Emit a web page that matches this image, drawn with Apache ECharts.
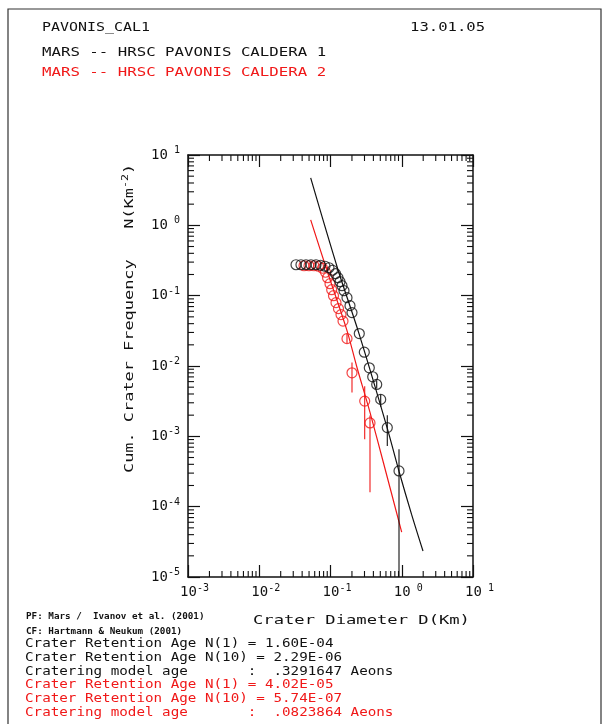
<!DOCTYPE html>
<html><head><meta charset="utf-8">
<script src="https://cdn.jsdelivr.net/npm/echarts@6/dist/echarts.min.js"></script>
<style>html,body{margin:0;padding:0;background:#fff}#c{width:603px;height:724px}</style>
</head><body><div id="c"></div><script>
// ---- Data: CAL 1 (black) ----
const diam1 = [0.0328,0.0385,0.0453,0.0532,0.0626,0.0724,0.0837,0.0953,0.1067,0.1176,0.1274,0.1359,0.1450,0.1547,0.1704,0.1878,0.2003,0.2536,0.2981,0.3504,0.3912,0.4452,0.5065,0.6268,0.9150];
const freq1 = [0.2753,0.2753,0.2753,0.2753,0.2753,0.2708,0.2621,0.2495,0.2300,0.2052,0.1800,0.1580,0.1386,0.1177,0.0937,0.0721,0.0574,0.0289,0.0157,0.00943,0.00703,0.00547,0.00335,0.00133,0.000322];
const errLo1 = [null,null,null,null,null,null,null,null,null,null,null,null,null,null,null,null,null,null,null,null,null,0.0048,0.00264,0.00073,0.00001];
const errHi1 = [null,null,null,null,null,null,null,null,null,null,null,null,null,null,null,null,null,null,null,null,null,0.0062,0.00394,0.00199,0.000654];
// ---- Data: CAL 2 (red) ----
const diam2 = [0.0425,0.0499,0.0587,0.0679,0.0772,0.0851,0.0908,0.0984,0.1039,0.1102,0.1195,0.1295,0.1404,0.1498,0.1704,0.2003,0.3020,0.3584];
const freq2 = [0.2663,0.2663,0.2663,0.2621,0.2455,0.2154,0.1800,0.1480,0.1216,0.1000,0.0796,0.0654,0.0538,0.0435,0.0245,0.00801,0.00317,0.00155];
const errLo2 = [null,null,null,null,null,null,null,null,null,null,null,null,null,null,0.021,0.00421,0.000907,0.00016];
const errHi2 = [null,null,null,null,null,null,null,null,null,null,null,null,null,null,0.029,0.0112,0.00517,0.00197];
// ---- Fitted isochrons ----
const fitD1 = [0.0527,0.1274,0.2512,0.6209,0.915,1.370,1.987];
const fitN1 = [4.718,0.2338,0.0289,0.001342,0.000319,0.0000783,0.0000234];
const fitD2 = [0.0527,0.0885,0.1688,0.2332,0.3584,0.5511,0.998];
const fitN2 = [1.197,0.2338,0.0329,0.00984,0.00219,0.000428,0.0000435];
// ---- Axes ----
const xDecades = [-3,-2,-1,0];
const yDecades = [-5,-4,-3,-2,-1,0];
const minorMult = [2,3,4,5,6,7,8,9];

const FONT = 'DejaVu Sans Mono';
const BLACK = '#111';
const RED = '#f01818';

const zip = (a,b) => a.map((v,i)=>[v,b[i]]);
const errData = (d,lo,hi) => d.map((v,i)=> lo[i]==null ? null : [v,lo[i],hi[i]]).filter(Boolean);
const minorX = [], minorY = [];
xDecades.forEach(e => minorMult.forEach(m => minorX.push([m*Math.pow(10,e), 1])));
yDecades.forEach(e => minorMult.forEach(m => minorY.push([0.01, m*Math.pow(10,e)])));

function supFmt(v){
  const e = Math.round(Math.log10(v));
  return e >= 0 ? ' ' + e : String(e);
}

function errRender(color){
  return function(params, api){
    const a = api.coord([api.value(0), api.value(1)]);
    const b = api.coord([api.value(0), api.value(2)]);
    return {type:'line', shape:{x1:a[0],y1:a[1],x2:b[0],y2:b[1]}, style:{stroke:color, lineWidth:1.1}};
  };
}

const chart = echarts.init(document.getElementById('c'), null, {renderer:'canvas'});
const axisCommon = {
  type:'log', logBase:10,
  axisLine:{show:true, lineStyle:{color:BLACK, width:1.5}},
  axisTick:{show:true, inside:true, length:12, lineStyle:{color:BLACK, width:1.2}},
  splitLine:{show:false}, minorTick:{show:false}
};
const labelRich = {
  b:{fontFamily:FONT, fontSize:14, color:BLACK},
  s:{fontFamily:FONT, fontSize:10, color:BLACK, padding:[0,0,9,0]},
  p:{fontFamily:FONT, fontSize:10, width:13}
};

chart.setOption({
  animation:false,
  backgroundColor:'#fff',
  grid:{left:188, top:155, width:285, height:422, containLabel:false},
  xAxis:[
    Object.assign({}, axisCommon, {min:0.001, max:10, splitNumber:4, position:'bottom',
      axisLabel:{show:true, margin:6, formatter:v=>'{p| }{b|10}{s|'+supFmt(v)+'}', rich:labelRich}}),
    Object.assign({}, axisCommon, {min:0.001, max:10, splitNumber:4, position:'top', axisLabel:{show:false}})
  ],
  yAxis:[
    Object.assign({}, axisCommon, {min:0.00001, max:10, splitNumber:6, position:'left',
      axisLabel:{show:true, margin:8, formatter:v=>'{b|10}{s|'+supFmt(v)+'}', rich:labelRich}}),
    Object.assign({}, axisCommon, {min:0.00001, max:10, splitNumber:6, position:'right', axisLabel:{show:false}})
  ],
  series:[
    {type:'custom', name:'minorX', data:minorX, encode:{x:0,y:1}, silent:true, clip:false,
      renderItem:(params, api)=>{
        const cs = params.coordSys; const p = api.coord([api.value(0), 1]);
        return {type:'group', children:[
          {type:'line', shape:{x1:p[0],y1:cs.y+cs.height,x2:p[0],y2:cs.y+cs.height-6}, style:{stroke:BLACK,lineWidth:1.1}},
          {type:'line', shape:{x1:p[0],y1:cs.y,x2:p[0],y2:cs.y+6}, style:{stroke:BLACK,lineWidth:1.1}}
        ]};
      }},
    {type:'custom', name:'minorY', data:minorY, encode:{x:0,y:1}, silent:true, clip:false,
      renderItem:(params, api)=>{
        const cs = params.coordSys; const p = api.coord([0.01, api.value(1)]);
        return {type:'group', children:[
          {type:'line', shape:{x1:cs.x,y1:p[1],x2:cs.x+6,y2:p[1]}, style:{stroke:BLACK,lineWidth:1.1}},
          {type:'line', shape:{x1:cs.x+cs.width,y1:p[1],x2:cs.x+cs.width-6,y2:p[1]}, style:{stroke:BLACK,lineWidth:1.1}}
        ]};
      }},
    {type:'line', name:'fit1', data:zip(fitD1,fitN1), showSymbol:false, smooth:0.3,
      lineStyle:{color:BLACK, width:1.2}, z:3},
    {type:'line', name:'fit2', data:zip(fitD2,fitN2), showSymbol:false, smooth:0.3,
      lineStyle:{color:RED, width:1.2}, z:3},
    {type:'custom', name:'err2', data:errData(diam2,errLo2,errHi2), encode:{x:0,y:[1,2]}, renderItem:errRender(RED), z:4},
    {type:'custom', name:'err1', data:errData(diam1,errLo1,errHi1), encode:{x:0,y:[1,2]}, renderItem:errRender(BLACK), z:4},
    {type:'scatter', name:'CAL2', data:zip(diam2,freq2), symbol:'circle', symbolSize:10,
      itemStyle:{color:'rgba(0,0,0,0)', borderColor:RED, borderWidth:1.2}, z:5},
    {type:'scatter', name:'CAL1', data:zip(diam1,freq1), symbol:'circle', symbolSize:10,
      itemStyle:{color:'rgba(0,0,0,0)', borderColor:BLACK, borderWidth:1.2}, z:6}
  ],
  graphic:[
    {type:'rect', shape:{x:8,y:9,width:593,height:730}, style:{fill:'none', stroke:'#333', lineWidth:1.2}, silent:true},
    {type:'text', x:42, y:28, scaleX:1.15, style:{text:'PAVONIS_CAL1', font:'13px '+FONT, fill:BLACK, textVerticalAlign:'middle'}},
    {type:'text', x:410, y:28, scaleX:1.2, style:{text:'13.01.05', font:'13px '+FONT, fill:BLACK, textVerticalAlign:'middle'}},
    {type:'text', x:42, y:53, scaleX:1.21, style:{text:'MARS -- HRSC PAVONIS CALDERA 1', font:'13px '+FONT, fill:BLACK, textVerticalAlign:'middle'}},
    {type:'text', x:42, y:73, scaleX:1.21, style:{text:'MARS -- HRSC PAVONIS CALDERA 2', font:'13px '+FONT, fill:RED, textVerticalAlign:'middle'}},
    {type:'text', x:130, y:473, rotation:Math.PI/2, scaleX:1.3,
      style:{text:'{a|Cum. Crater Frequency   N(Km}{s|-2}{a|)}', textVerticalAlign:'middle',
        rich:{a:{font:'13px '+FONT, fill:BLACK}, s:{font:'9px '+FONT, fill:BLACK, padding:[0,0,8,0]}}}},
    {type:'text', x:253, y:621, scaleX:1.32, style:{text:'Crater Diameter D(Km)', font:'13px '+FONT, fill:BLACK, textVerticalAlign:'middle'}},
    {type:'text', x:26, y:617, scaleX:1.09, style:{text:'PF: Mars /  Ivanov et al. (2001)', font:'bold 8.5px '+FONT, fill:BLACK, textVerticalAlign:'middle'}},
    {type:'text', x:26, y:632, scaleX:1.09, style:{text:'CF: Hartmann & Neukum (2001)', font:'bold 8.5px '+FONT, fill:BLACK, textVerticalAlign:'middle'}},
    {type:'text', x:25, y:644, scaleX:1.186, style:{text:'Crater Retention Age N(1) = 1.60E-04', font:'12px '+FONT, fill:BLACK, textVerticalAlign:'middle'}},
    {type:'text', x:25, y:658, scaleX:1.186, style:{text:'Crater Retention Age N(10) = 2.29E-06', font:'12px '+FONT, fill:BLACK, textVerticalAlign:'middle'}},
    {type:'text', x:25, y:672, scaleX:1.186, style:{text:'Cratering model age       :  .3291647 Aeons', font:'12px '+FONT, fill:BLACK, textVerticalAlign:'middle'}},
    {type:'text', x:25, y:685, scaleX:1.186, style:{text:'Crater Retention Age N(1) = 4.02E-05', font:'12px '+FONT, fill:RED, textVerticalAlign:'middle'}},
    {type:'text', x:25, y:699, scaleX:1.186, style:{text:'Crater Retention Age N(10) = 5.74E-07', font:'12px '+FONT, fill:RED, textVerticalAlign:'middle'}},
    {type:'text', x:25, y:713, scaleX:1.186, style:{text:'Cratering model age       :  .0823864 Aeons', font:'12px '+FONT, fill:RED, textVerticalAlign:'middle'}}
  ]
});
</script></body></html>
